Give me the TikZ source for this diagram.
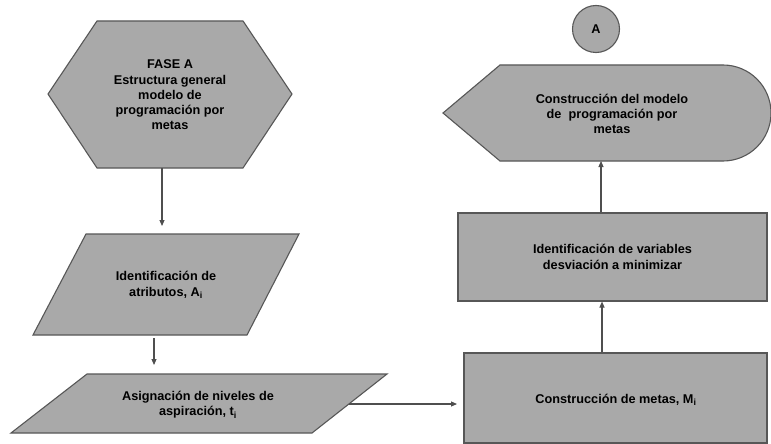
\documentclass[tikz,border=0pt]{standalone}
\usepackage{fontspec}
\setmainfont{Liberation Sans}
\usetikzlibrary{arrows.meta}
\definecolor{shapefill}{HTML}{A9A9A9}
\definecolor{shapeline}{HTML}{575757}
\definecolor{arrowline}{HTML}{4F4F4F}
\tikzset{
  shapebox/.style={draw=shapeline, fill=shapefill, line width=1.1pt, line join=miter},
  label text/.style={align=center, font=\fontsize{12.7}{15.2}\selectfont\bfseries, inner sep=0pt},
  connector/.style={draw=arrowline, line width=1.1pt, -{Triangle[length=6pt,width=5pt]}},
}
\begin{document}
\begin{tikzpicture}[x=1pt,y=-1pt]
\useasboundingbox (0,0) rectangle (771,444);
\fill[white] (0,0) rectangle (771,444);

% hexagon
\draw[shapebox] (97,21) -- (243,21) -- (292,94) -- (243,168) -- (97,168) -- (48,94) -- cycle;
\node[label text] (fase) at (170,95) {FASE A\\Estructura general\\modelo de\\programación por\\metas};
\coordinate (faseS) at (162,168);

% parallelogram 1
\draw[shapebox] (86,234) -- (299,234) -- (247,335) -- (33,335) -- cycle;
\node[label text] (atrib) at (166,285) {Identificación de\\atributos, A\textsubscript{i}};
\coordinate (atribN) at (162,226);
\coordinate (atribS) at (154,338);

% parallelogram 2
\draw[shapebox] (87,374) -- (387,374) -- (312,433) -- (11,433) -- cycle;
\node[label text] (asig) at (198,405) {Asignación de niveles de\\aspiración, t\textsubscript{i}};
\coordinate (asigN) at (154,365);
\coordinate (asigE) at (349,404);

% rectangle metas
\node[shapebox, label text, minimum width=303pt, minimum height=90pt] (metas) at (615.5,398) {};
\node[label text] (metasT) at (616,400) {Construcción de metas, M\textsubscript{i}};
\coordinate (metasW) at (457,404);

% rectangle variables
\node[shapebox, label text, minimum width=309pt, minimum height=88pt] (vars) at (612.5,257) {Identificación de variables\\desviación a minimizar};

% display shape
\draw[shapebox] (443,113) -- (500,65) -- (723,65) arc[start angle=-90, end angle=90, radius=48] -- (500,161) -- cycle;
\node[label text] (constr) at (612,114) {Construcción del modelo\\de~ programación por\\metas};
\coordinate (constrS) at (601,161);

% connector circle
\node[shapebox, circle, minimum size=47pt, label text] (A) at (596,29) {A};

% connectors
\draw[connector] (faseS) -- (atribN);
\draw[connector] (atribS) -- (asigN);
\draw[connector] (asigE) -- (metasW);
\draw[connector] (metas.north -| 602,0) -- (vars.south -| 602,0);
\draw[connector] (vars.north -| constrS) -- (constrS);
\end{tikzpicture}
\end{document}
